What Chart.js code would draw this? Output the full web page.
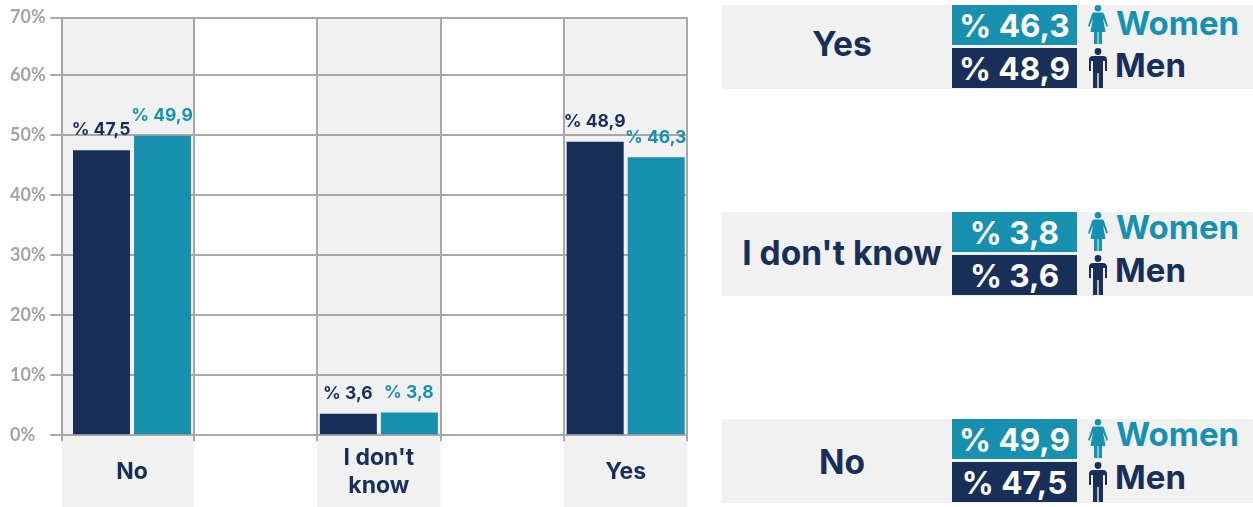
<!DOCTYPE html>
<html>
<head>
<meta charset="utf-8">
<script src="https://cdn.jsdelivr.net/npm/chart.js@4"></script>
<style>
  html, body { margin: 0; padding: 0; background: #fff; }
  body { position: relative; width: 1253px; height: 507px; overflow: hidden; font-family: Inter, sans-serif; }
  #chartBox { position: absolute; left: 0; top: 0; width: 700px; height: 507px; }
  .row { position: absolute; left: 722px; width: 531px; height: 84px; background: #f1f1f1; }
  .row .answer { position: absolute; left: 0; width: 240px; height: 79px; line-height: 79px; text-align: center; font-size: 33.500px; font-weight: 700; color: #182f59; white-space: nowrap; }
  .row .box { position: absolute; left: 230px; width: 125px; height: 40px; line-height: 41px; text-align: center; color: #fff; font-size: 31.500px; font-weight: 700; }
  .row .who { position: absolute; font-size: 33px; font-weight: 700; line-height: 38px; }
  .row svg { position: absolute; left: 365px; width: 22px; height: 41px; }
  .women { color: #1791af; }
  .men { color: #182f59; }
  .box.women { background: #1791af; color: #fff; top: 0; }
  .box.men { background: #182f59; color: #fff; top: 43px; }
</style>
</head>
<body>
<div id="chartBox"><canvas id="chart"></canvas></div>
<div id="panel"></div>
<script>
// Survey answers split by gender
const categories = ['No', '', ["I don't", 'know'], '', 'Yes'];
const menValues = [47.5, null, 3.6, null, 48.9];
const womenValues = [49.9, null, 3.8, null, 46.3];
// The axis tops out just under 70, where its last line sits
const yTickValues = [0, 10, 20, 30, 40, 50, 60, 69.6];
const yTickLabels = ['0%', '10%', '20%', '30%', '40%', '50%', '60%', '70%'];

// Summary rows on the right, top to bottom
const rowAnswers = ['Yes', "I don't know", 'No'];
const rowWomen = [46.3, 3.8, 49.9];
const rowMen = [48.9, 3.6, 47.5];
const rowTops = [5, 212, 419];
const answerTops = [0, 2, 4];
const womenWordTops = [-1, -4, -4];
const menWordTops = [41, 39, 39];

const NAVY = '#182f59';
const TEAL = '#1791af';
const GRID = '#a8a8a8';
const BAND = '#f1f1f1';
const LEFT_EXTRA = 8.3;

const pct = v => '% ' + String(v).replace('.', ',');

// Light bands behind the answered categories, plus the axis line left of the plot
const bandPlugin = {
  id: 'bands',
  beforeDraw(chart) {
    const { ctx, chartArea, scales: { x } } = chart;
    const step = x.getPixelForValue(1) - x.getPixelForValue(0);
    ctx.save();
    ctx.fillStyle = BAND;
    categories.forEach((c, i) => {
      if (!c) return;
      const extra = i === 0 ? LEFT_EXTRA : 0;
      const l = x.getPixelForValue(i) - step / 2 - extra;
      ctx.fillRect(l, chartArea.top, step + extra, chart.height - chartArea.top);
    });
    ctx.restore();
  },
  afterDraw(chart) {
    const { ctx, chartArea } = chart;
    ctx.save();
    ctx.strokeStyle = GRID;
    ctx.lineWidth = 2;
    ctx.beginPath();
    const lx = chartArea.left - LEFT_EXTRA;
    ctx.moveTo(lx, chartArea.top);
    ctx.lineTo(lx, chartArea.bottom + 6);
    ctx.stroke();
    ctx.restore();
  }
};

// Value captions above each bar
const valueLabels = {
  id: 'valueLabels',
  afterDatasetsDraw(chart) {
    const { ctx } = chart;
    ctx.save();
    ctx.font = '700 17.5px Inter, sans-serif';
    ctx.textAlign = 'center';
    ctx.textBaseline = 'middle';
    chart.data.datasets.forEach((ds, d) => {
      ctx.fillStyle = ds.backgroundColor;
      chart.getDatasetMeta(d).data.forEach((bar, i) => {
        if (ds.data[i] == null) return;
        ctx.fillText(pct(ds.data[i]), bar.x - 0.5, bar.y - 20);
      });
    });
    ctx.restore();
  }
};

new Chart(document.getElementById('chart'), {
  type: 'bar',
  data: {
    labels: categories,
    datasets: [
      { label: 'Men', data: menValues, backgroundColor: NAVY },
      { label: 'Women', data: womenValues, backgroundColor: TEAL }
    ]
  },
  options: {
    responsive: true,
    maintainAspectRatio: false,
    animation: false,
    layout: { padding: { left: 10, top: 17.5, right: 12.6, bottom: 0 } },
    plugins: { legend: { display: false }, tooltip: { enabled: false } },
    datasets: { bar: { barPercentage: 0.934, categoryPercentage: 0.989 } },
    scales: {
      x: {
        offset: true,
        afterFit(s) { s.height = 71.7; },
        border: { display: false },
        grid: {
          color: c => (c.index === 0 ? 'rgba(0,0,0,0)' : GRID),
          lineWidth: 2,
          tickLength: 6
        },
        ticks: {
          color: NAVY,
          font: { family: 'Inter, sans-serif', size: 23, weight: '700', lineHeight: 1.22 },
          maxRotation: 0,
          autoSkip: false,
          crossAlign: 'center',
          padding: 16.5
        }
      },
      y: {
        min: 0,
        max: 69.6,
        afterFit(s) { s.width = 60.3; },
        afterBuildTicks(s) { s.ticks = yTickValues.map(value => ({ value })); },
        border: { display: false },
        grid: { color: GRID, lineWidth: 2, tickLength: 20 },
        ticks: {
          color: '#a3a3a3',
          font: { family: 'Lato, sans-serif', size: 18, weight: '700' },
          crossAlign: 'far',
          padding: 4,
          callback: (v, i) => yTickLabels[i]
        }
      }
    }
  },
  plugins: [bandPlugin, valueLabels]
});

// Figure pictograms for the summary rows
const womanIcon = '<circle cx="11" cy="3.300" r="3.300"/><path d="M7 7.500H15C16 7.500 16.600 8 17 9L21 21L19.500 21.800L16 13L18.500 27H15V39H11.500V27H10.500V39H7V27H3.500L6 13L2.500 21.800L1 21L5 9C5.400 8 6 7.500 7 7.500Z"/>';
const manIcon = '<circle cx="11" cy="3.500" r="3.400"/><path d="M6 8H16C18.500 8 20 9.500 20 12V23H18V13H16V40H11.700V25H10.300V40H6V13H4V23H2V12C2 9.500 3.500 8 6 8Z"/>';

const panel = document.getElementById('panel');
rowAnswers.forEach((answer, i) => {
  const row = document.createElement('div');
  row.className = 'row';
  row.style.top = rowTops[i] + 'px';
  row.innerHTML =
    '<div class="answer" style="top:' + answerTops[i] + 'px">' + answer + '</div>' +
    '<div class="box women">' + pct(rowWomen[i]) + '</div>' +
    '<div class="box men">' + pct(rowMen[i]) + '</div>' +
    '<svg class="women" viewBox="0 0 22 41" style="top:0" fill="currentColor">' + womanIcon + '</svg>' +
    '<svg class="men" viewBox="0 0 22 41" style="top:43px" fill="currentColor">' + manIcon + '</svg>' +
    '<div class="who women" style="left:394px;top:' + womenWordTops[i] + 'px">Women</div>' +
    '<div class="who men" style="left:393px;top:' + menWordTops[i] + 'px">Men</div>';
  panel.appendChild(row);
});
</script>
</body>
</html>
